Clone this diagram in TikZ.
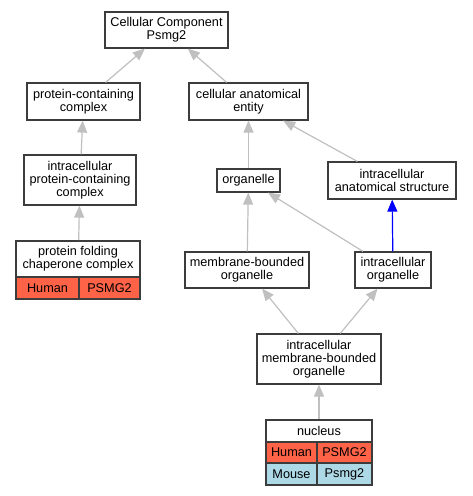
\documentclass[tikz,border=0pt]{standalone}
\usepackage{fontspec}
\setmainfont{Liberation Sans}
\usetikzlibrary{arrows.meta,fit}
\definecolor{human}{HTML}{FF6347}
\definecolor{mouse}{HTML}{ADD8E6}
\definecolor{edgegray}{HTML}{C0C0C0}
\definecolor{border}{HTML}{3C3C3C}
\begin{document}
\begin{tikzpicture}[x=1pt,y=-1pt,
  box/.style={draw=border, line width=1.2pt, fill=white, inner sep=0pt, align=center,
    font=\fontsize{12.7}{13}\selectfont},
  hcell/.style={box, fill=human},
  mcell/.style={box, fill=mouse},
  wrap/.style={draw=none, fill=none, inner sep=0pt},
  edge/.style={draw=edgegray, line width=1.2pt, -{Triangle[width=10pt,length=12pt]}},
  bedge/.style={edge, draw=blue, -{Triangle[width=10pt,length=12pt,fill=blue]}}
]
\useasboundingbox (0,0) rectangle (472,496);
\fill[white] (0,0) rectangle (472,496);

\node[box, minimum width=123pt, minimum height=36pt] (cc) at (166.5,30) {Cellular Component\\Psmg2};
\node[box, minimum width=113pt, minimum height=37pt] (pcc) at (83.5,101.5) {protein-containing\\complex};
\node[box, minimum width=119pt, minimum height=37pt] (cae) at (248.5,101.5) {cellular anatomical\\entity};
\node[box, minimum width=112pt, minimum height=50pt] (ipcc) at (80,180) {intracellular\\protein-containing\\complex};
\node[box, minimum width=63pt, minimum height=23pt] (org) at (248.5,180.5) {organelle};
\node[box, minimum width=128pt, minimum height=37pt] (ias) at (392,180.5) {intracellular\\anatomical structure};
\node[box, minimum width=124pt, minimum height=36pt] (mbo) at (247,270) {membrane-bounded\\organelle};
\node[box, minimum width=76pt, minimum height=36pt] (io) at (393,270) {intracellular\\organelle};
\node[box, minimum width=124pt, minimum height=50pt] (imbo) at (319,359) {intracellular\\membrane-bounded\\organelle};

% protein folding chaperone complex record
\node[box, minimum width=124pt, minimum height=36pt] (pfh) at (78,259) {protein folding\\chaperone complex};
\node[hcell, minimum width=63pt, minimum height=22pt] (pfh1) at (47.5,288) {Human};
\node[hcell, minimum width=61pt, minimum height=22pt] (pfh2) at (109.5,288) {PSMG2};
\node[wrap, fit=(pfh)(pfh1)(pfh2)] (pfcc) {};

% nucleus record
\node[box, minimum width=106pt, minimum height=22pt] (nuh) at (319,431) {nucleus};
\node[hcell, minimum width=51pt, minimum height=21pt] (nuh1) at (291.5,452.5) {Human};
\node[hcell, minimum width=55pt, minimum height=21pt] (nuh2) at (344.5,452.5) {PSMG2};
\node[mcell, minimum width=51pt, minimum height=22pt] (num1) at (291.5,474) {Mouse};
\node[mcell, minimum width=55pt, minimum height=22pt] (num2) at (344.5,474) {Psmg2};
\node[wrap, fit=(nuh)(nuh1)(nuh2)(num1)(num2)] (nuc) {};

\draw[edge] (pcc) -- (cc);
\draw[edge] (cae) -- (cc);
\draw[edge] (ipcc) -- (pcc);
\draw[edge] (pfcc) -- (ipcc);
\draw[edge] (org) -- (cae);
\draw[edge] (ias) -- (cae);
\draw[edge] (mbo) -- (org);
\draw[edge] (io) -- (org);
\draw[bedge] (io) -- (ias);
\draw[edge] (imbo) -- (mbo);
\draw[edge] (imbo) -- (io);
\draw[edge] (nuc) -- (imbo);
\end{tikzpicture}
\end{document}
